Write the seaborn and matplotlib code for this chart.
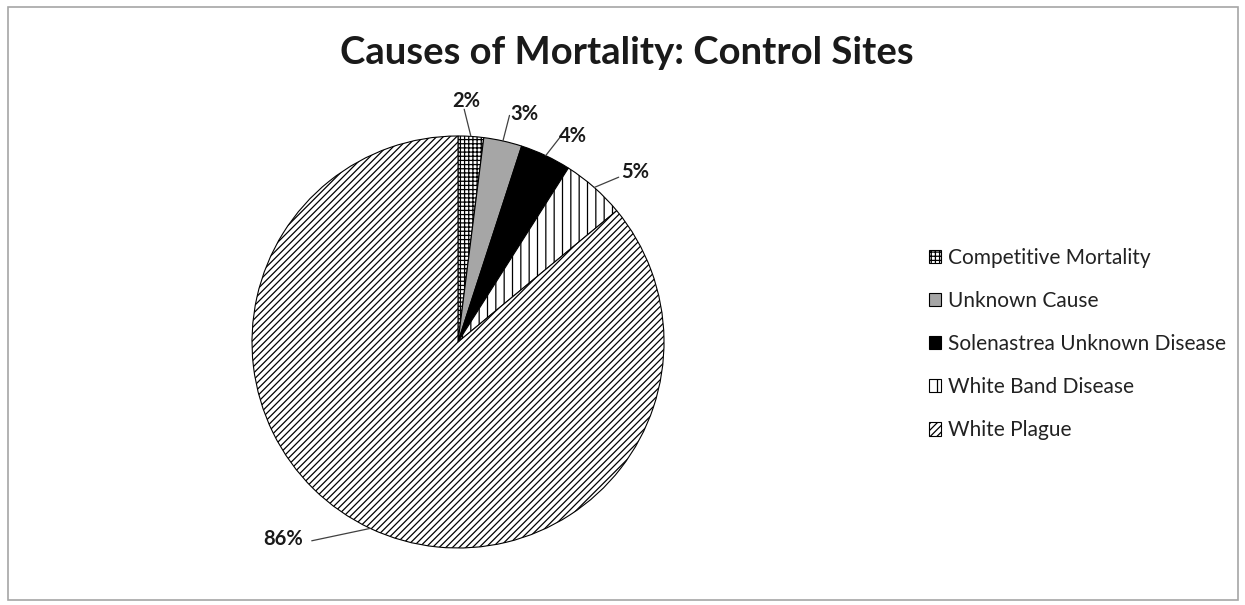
import matplotlib
matplotlib.use("Agg")
import matplotlib.pyplot as plt
import seaborn as sns
import numpy as np
from matplotlib.patches import Rectangle

categories = ["Competitive Mortality", "Unknown Cause", "Solenastrea Unknown Disease",
              "White Band Disease", "White Plague"]
values = [2, 3, 4, 5, 86]
pct_labels = ["2%", "3%", "4%", "5%", "86%"]

sns.set_theme(style="white")
plt.rcParams['font.family'] = ['Lato', 'DejaVu Sans']
plt.rcParams['hatch.linewidth'] = 0.9

W, H = 1245, 605
fig = plt.figure(figsize=(W / 100, H / 100), dpi=100)
fig.patch.set_facecolor("white")

# outer chart border
fig.patches.append(Rectangle((8 / W, 5 / H), 1230 / W, 593 / H, transform=fig.transFigure,
                             fill=False, edgecolor="#a6a6a6", lw=1.2))

cx, cy, r = 458, 342, 206
ax = fig.add_axes([(cx - r) / W, (H - cy - r) / H, 2 * r / W, 2 * r / H])

fills = ["white", "#a6a6a6", "black", "white", "white"]
hatches = ["++++", None, None, "||", "/////"]

wedges, _ = ax.pie(values, startangle=90, counterclock=False, radius=1,
                   colors=fills, wedgeprops=dict(edgecolor="black", linewidth=0.8))
for w, h in zip(wedges, hatches):
    if h:
        w.set_hatch(h)
ax.set_xlim(-1, 1)
ax.set_ylim(-1, 1)
ax.set_aspect("equal")
ax.axis("off")

# label offsets (in radius units) for the percentage labels
label_pos = [(0.04, 1.17), (0.32, 1.105), (0.56, 1.0), (0.86, 0.825), (-0.85, -0.955)]
line_end = [(0.03, 1.13), (0.25, 1.1), (0.50, 1.0), (0.78, 0.8), (-0.71, -0.965)]
for wdg, lab, pos, le in zip(wedges, pct_labels, label_pos, line_end):
    ang = np.deg2rad((wdg.theta1 + wdg.theta2) / 2)
    xy = (np.cos(ang), np.sin(ang))
    ax.annotate("", xy=xy, xytext=le, annotation_clip=False,
                arrowprops=dict(arrowstyle="-", color="#404040", lw=0.9,
                                shrinkA=0, shrinkB=0))
    ax.text(pos[0], pos[1], lab, ha="center", va="center", fontsize=14.5,
            fontweight="bold", color="#1a1a1a", clip_on=False)

fig.text(627 / W, 1 - 53 / H, "Causes of Mortality: Control Sites", ha="center", va="center",
         fontsize=27.5, fontweight="bold", color="#1a1a1a")

leg = fig.legend(wedges, categories, loc="upper left",
                 bbox_to_anchor=(910 / W, 1 - 229 / H), frameon=False,
                 fontsize=15, handlelength=0.6, handleheight=0.6,
                 handletextpad=0.3, labelspacing=1.11)
for t in leg.get_texts():
    t.set_color("#222222")

fig.savefig("out.png", dpi=100, facecolor="white")
